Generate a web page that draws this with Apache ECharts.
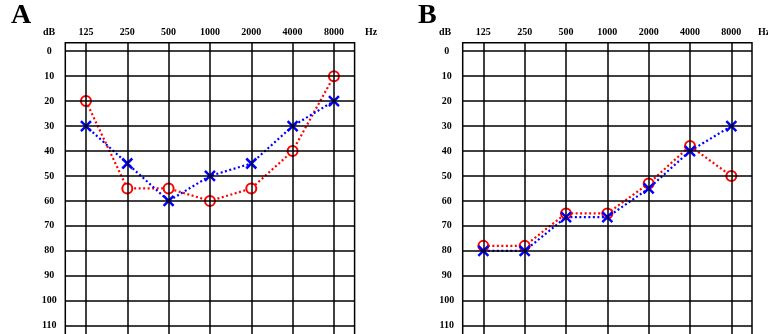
<!DOCTYPE html>
<html>
<head>
<meta charset="utf-8">
<script src="https://cdn.jsdelivr.net/npm/echarts@6/dist/echarts.min.js"></script>
<style>
  html, body { margin: 0; padding: 0; background: #fff; }
  #chart { width: 768px; height: 334px; }
</style>
</head>
<body>
<div id="chart"></div>
<script>
// 频率（Hz）和听阈刻度（dB）
var freqs = ['125', '250', '500', '1000', '2000', '4000', '8000'];
var dbTicks = [0, 10, 20, 30, 40, 50, 60, 70, 80, 90, 100, 110];

// A 图：右耳 O（红），左耳 X（蓝）
var rightA = [20, 55, 55, 60, 55, 40, 10];
var leftA = [30, 45, 60, 50, 45, 30, 20];

// B 图
var rightB = [78, 78, 65, 65, 53, 38, 50];
var leftB = [80, 80, 66.5, 66.5, 55, 40, 30];

var font = 'Liberation Serif';
var xMark = 'path://M0,0L10,10M10,0L0,10';

function makeGrid(left) {
  return {
    left: left, top: 42.7, width: 289.3, height: 308,
    outerBoundsMode: 'none', containLabel: false,
    show: true, borderColor: '#000', borderWidth: 1.5
  };
}
function makeX(i) {
  return {
    type: 'category', gridIndex: i, position: 'top', data: freqs,
    boundaryGap: true,
    axisLine: {show: false}, axisTick: {show: false}, splitLine: {show: false},
    axisLabel: {margin: 5, color: '#000', fontFamily: font, fontWeight: 'bold', fontSize: 10}
  };
}
function makeY(i) {
  return {
    type: 'value', gridIndex: i, inverse: true, min: -3.4, max: 120,
    axisLine: {show: false}, axisTick: {show: false}, splitLine: {show: false},
    axisLabel: {
      customValues: dbTicks, margin: 16, align: 'center',
      color: '#000', fontFamily: font, fontWeight: 'bold', fontSize: 10
    }
  };
}
// 网格线（画在数据下面）
function gridLines(i) {
  var d = [];
  freqs.forEach(function (f) { d.push({xAxis: f}); });
  dbTicks.forEach(function (v) { d.push({yAxis: v}); });
  return {
    type: 'line', xAxisIndex: i, yAxisIndex: i, data: [], z: 1, silent: true,
    markLine: {
      symbol: 'none', silent: true, animation: false,
      label: {show: false},
      lineStyle: {color: '#000', width: 1.5, type: 'solid'},
      data: d
    }
  };
}
function redSeries(i, data) {
  return {
    type: 'line', xAxisIndex: i, yAxisIndex: i, data: data, z: 3,
    symbol: 'emptyCircle', symbolSize: 10,
    itemStyle: {color: '#ff0000', borderColor: '#ff0000', borderWidth: 2},
    lineStyle: {color: '#ff0000', width: 2.2, type: [2, 2.5]}
  };
}
function blueSeries(i, data) {
  return {
    type: 'line', xAxisIndex: i, yAxisIndex: i, data: data, z: 4,
    symbol: xMark, symbolSize: 10,
    itemStyle: {color: '#0000ff', borderColor: '#0000ff', borderWidth: 2.5},
    lineStyle: {color: '#0000ff', width: 2.2, type: [2, 2.5]}
  };
}

var labelStyle = {color: '#000', fontFamily: font, fontWeight: 'bold', fontSize: 10};
var bigStyle = {color: '#000', fontFamily: font, fontWeight: 'bold', fontSize: 28};

var option = {
  animation: false,
  backgroundColor: '#fff',
  title: [
    {text: 'A', left: 11, top: 2, padding: 0, textStyle: bigStyle},
    {text: 'B', left: 418, top: 2, padding: 0, textStyle: bigStyle},
    {text: 'dB', left: 43, top: 27, padding: 0, textStyle: labelStyle},
    {text: 'Hz', left: 365, top: 27, padding: 0, textStyle: labelStyle},
    {text: 'dB', left: 439, top: 27, padding: 0, textStyle: labelStyle},
    {text: 'Hz', left: 758, top: 27, padding: 0, textStyle: labelStyle}
  ],
  grid: [makeGrid(65.3), makeGrid(462.7)],
  xAxis: [makeX(0), makeX(1)],
  yAxis: [makeY(0), makeY(1)],
  series: [
    gridLines(0), redSeries(0, rightA), blueSeries(0, leftA),
    gridLines(1), redSeries(1, rightB), blueSeries(1, leftB)
  ]
};

var myChart = echarts.init(document.getElementById('chart'));
myChart.setOption(option);
</script>
</body>
</html>
